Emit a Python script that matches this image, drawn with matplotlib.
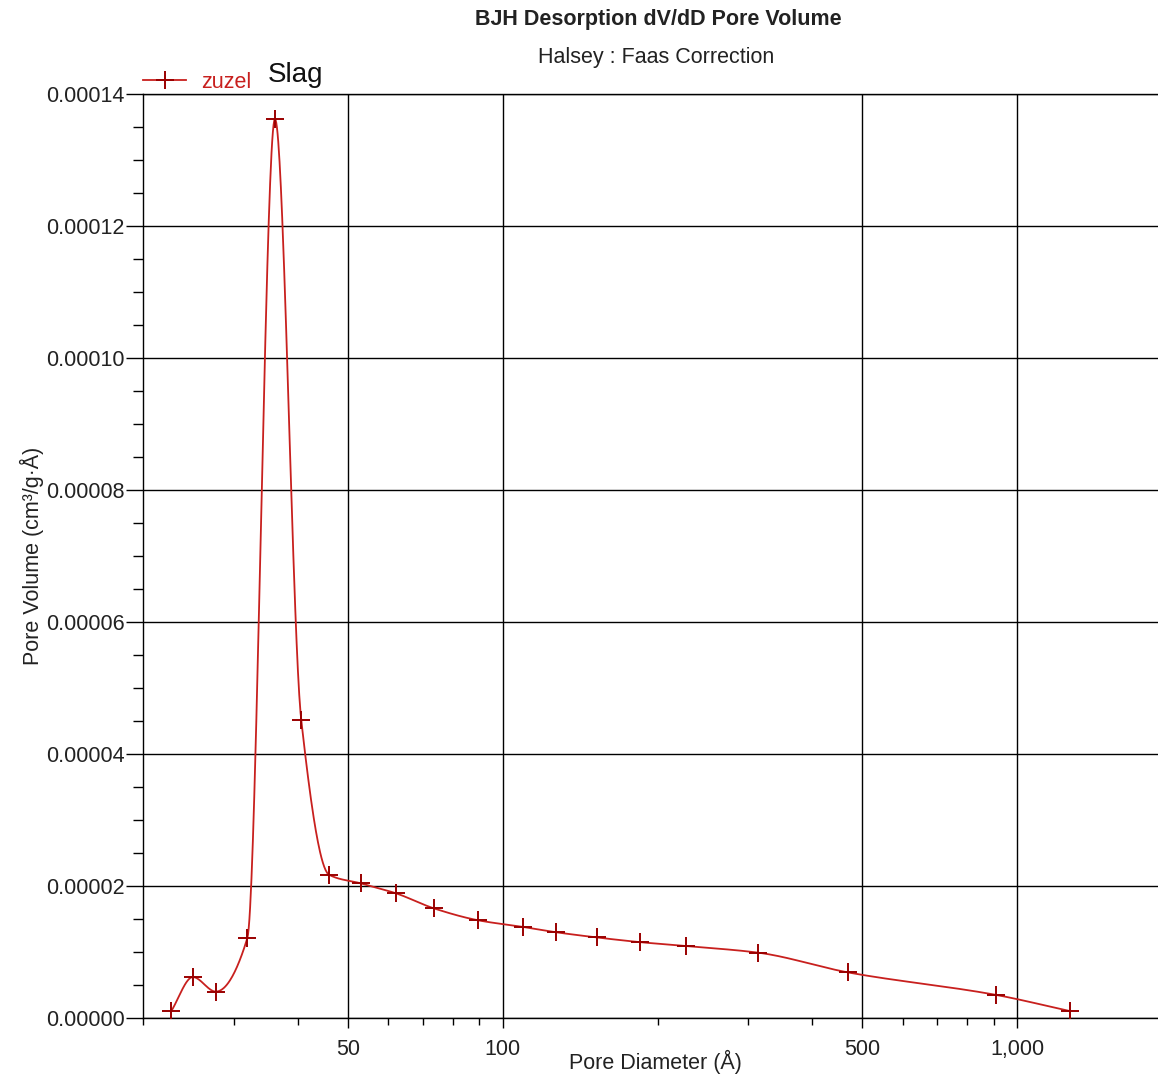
import numpy as np
import matplotlib
matplotlib.use("Agg")
import matplotlib.pyplot as plt
from matplotlib.ticker import FixedLocator, FuncFormatter

plt.rcParams['font.family'] = ['Liberation Sans', 'DejaVu Sans']

# datos (BJH desorcion, zuzel)
pore_diameter = [22.7, 25.0, 27.7, 31.9, 36.1, 40.6, 46.0, 53.0, 62.0, 73.6,
                 89.7, 109.5, 126.8, 152.7, 184.5, 227.5, 313.7, 469.7, 909.6, 1264]
pore_volume = [1.06e-6, 6.2e-6, 4.0e-6, 1.21e-5, 1.362e-4, 4.52e-5, 2.17e-5, 2.04e-5,
               1.89e-5, 1.66e-5, 1.48e-5, 1.38e-5, 1.30e-5, 1.22e-5, 1.15e-5, 1.09e-5,
               9.9e-6, 6.9e-6, 3.5e-6, 1.06e-6]

x_major = [50, 100, 500, 1000]
x_major_labels = ["50", "100", "500", "1,000"]
x_minor = [20, 30, 40, 60, 70, 80, 90, 200, 300, 400, 600, 700, 800, 900]
y_major = [0, 0.00002, 0.00004, 0.00006, 0.00008, 0.00010, 0.00012, 0.00014]

serie = "zuzel"
muestra = "Slag"


def pchip_curve(xs, ys, n=40):
    """Linea suavizada (monotona) en espacio log-x, como el grafico original."""
    lx = np.log10(np.asarray(xs, float))
    y = np.asarray(ys, float)
    h = np.diff(lx)
    delta = np.diff(y) / h
    d = np.zeros_like(y)
    for k in range(1, len(y) - 1):
        if delta[k - 1] * delta[k] <= 0:
            d[k] = 0.0
        else:
            w1 = 2 * h[k] + h[k - 1]
            w2 = h[k] + 2 * h[k - 1]
            d[k] = (w1 + w2) / (w1 / delta[k - 1] + w2 / delta[k])
    d[0] = delta[0]
    d[-1] = delta[-1]
    out_x, out_y = [], []
    for k in range(len(h)):
        t = np.linspace(0, 1, n, endpoint=False)
        h00 = 2 * t**3 - 3 * t**2 + 1
        h10 = t**3 - 2 * t**2 + t
        h01 = -2 * t**3 + 3 * t**2
        h11 = t**3 - t**2
        yy = h00 * y[k] + h10 * h[k] * d[k] + h01 * y[k + 1] + h11 * h[k] * d[k + 1]
        out_x.append(10 ** (lx[k] + t * h[k]))
        out_y.append(yy)
    out_x.append([xs[-1]])
    out_y.append([ys[-1]])
    return np.concatenate(out_x), np.concatenate(out_y)


W, H = 1158, 1086
fig = plt.figure(figsize=(W / 100, H / 100), dpi=100)
ax = fig.add_axes([143 / W, 1 - 1018 / H, 1 - 143 / W, (1018 - 94) / H])

linea_color = '#c8201e'
marca_color = '#9a0000'

cx, cy = pchip_curve(pore_diameter, pore_volume)
ax.plot(cx, cy, color=linea_color, lw=1.3, zorder=3)
ax.plot(pore_diameter, pore_volume, ls='none', marker='+', ms=13, mew=1.4,
        color=marca_color, zorder=4)

ax.set_xscale('log')
ax.set_xlim(20, 1878)
ax.set_ylim(0, 0.00014)

ax.xaxis.set_major_locator(FixedLocator(x_major))
ax.xaxis.set_major_formatter(FuncFormatter(lambda v, p: x_major_labels[x_major.index(int(round(v)))] if int(round(v)) in x_major else ""))
ax.xaxis.set_minor_locator(FixedLocator(x_minor))
ax.xaxis.set_minor_formatter(FuncFormatter(lambda v, p: ""))
ax.yaxis.set_major_locator(FixedLocator(y_major))
ax.yaxis.set_minor_locator(FixedLocator(np.arange(0, 0.00014, 0.000005)))
ax.yaxis.set_major_formatter(FuncFormatter(lambda v, p: f"{v:.5f}"))

ax.grid(True, which='major', color='black', lw=1.0)
ax.set_axisbelow(True)
ax.tick_params(axis='both', which='both', direction='out', colors='black',
               labelcolor='#222222', labelsize=15.5, width=1.0)
ax.tick_params(axis='y', which='major', length=12, pad=1)
ax.tick_params(axis='y', which='minor', length=7)
ax.tick_params(axis='x', which='major', length=7, pad=8)
ax.tick_params(axis='x', which='minor', length=5)

for s in ['left', 'bottom', 'top']:
    ax.spines[s].set_color('black')
    ax.spines[s].set_linewidth(1.0)
ax.spines['right'].set_visible(False)

ax.set_xlabel("Pore Diameter (Å)", fontsize=15.5, color='#222222')
ax.xaxis.set_label_coords((655 - 143) / (W - 143), -(1050 - 1018) / (1018 - 94))
ax.set_ylabel("Pore Volume (cm³/g·Å)", fontsize=15.5, color='#222222')
ax.yaxis.set_label_coords(-(143 - 44) / (W - 143), 0.5)

fig.text(658 / W, 1 - 20 / H, "BJH Desorption dV/dD Pore Volume", ha='center', va='center',
         fontsize=15.5, fontweight='bold', color='#222222')
fig.text(656 / W, 1 - 58 / H, "Halsey : Faas Correction", ha='center', va='center',
         fontsize=15.5, color='#222222')

leg = ax.legend([plt.Line2D([], [], color=linea_color, lw=1.3, marker='+', ms=13,
                            mew=1.4, markeredgecolor=marca_color)], [serie],
                loc='center left', bbox_to_anchor=(143 / W, 1 - 82 / H),
                bbox_transform=fig.transFigure, frameon=False, fontsize=15.5,
                handlelength=2.0, handletextpad=0.7, borderpad=0, borderaxespad=0)
for t in leg.get_texts():
    t.set_color(linea_color)
fig.text(268 / W, 1 - 75 / H, muestra, ha='left', va='center', fontsize=20, color='#111111')

fig.savefig("out.png", dpi=100)
